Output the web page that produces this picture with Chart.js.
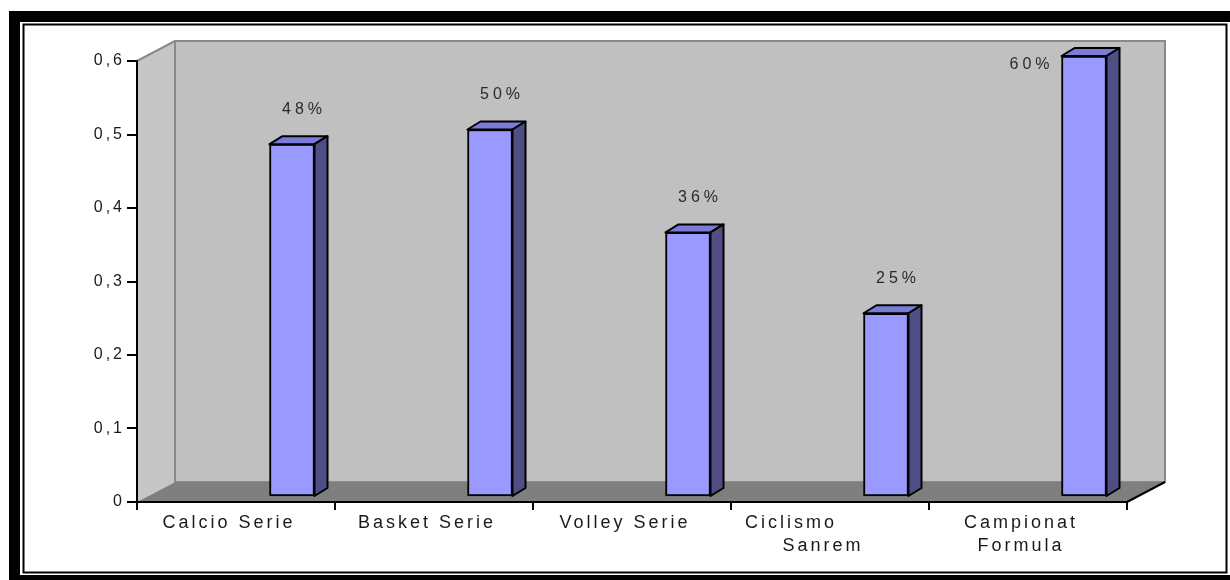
<!DOCTYPE html>
<html>
<head>
<meta charset="utf-8">
<script src="https://cdn.jsdelivr.net/npm/chart.js@4.4.1/dist/chart.umd.min.js"></script>
<style>
  html, body { margin: 0; padding: 0; background: #fff; }
  canvas { display: block; }
</style>
</head>
<body>
<canvas id="sportChart" width="1230" height="580"></canvas>
<script>
// category labels as they appear under the axis (one array per category, one string per line)
const categories = [
  ['Calcio Serie'],
  ['Basket Serie'],
  ['Volley Serie'],
  ['Ciclismo' + '\u00a0'.repeat(8), 'Sanrem'],
  ['Campionat', 'Formula']
];
const shares = [0.48, 0.50, 0.36, 0.25, 0.60];
const yTicks = [0, 0.1, 0.2, 0.3, 0.4, 0.5, 0.6];

const FONT = "'Liberation Sans', Arial, sans-serif";
const DEPTH_X = 38, DEPTH_Y = 20;     // floor / side wall depth
const BAR_DX = 13, BAR_DY = 8;        // bar side/top depth
const BAR_SHIFT_X = 56, BAR_SHIFT_Y = -5;

function spacing(chart) {
  chart.ctx.letterSpacing = '3px';
}

// white page, double black frame, then the grey box behind the bars
const backdrop = {
  id: 'backdrop',
  beforeUpdate: spacing,
  beforeLayout: spacing,
  beforeDraw(chart) {
    const { ctx, width, height, chartArea: a } = chart;
    ctx.save();
    ctx.fillStyle = '#fff';
    ctx.fillRect(0, 0, width, height);
    ctx.fillStyle = '#000';
    ctx.fillRect(9, 11, width, height);
    ctx.fillStyle = '#fff';
    ctx.fillRect(20, 22, 1210, 553);
    ctx.strokeStyle = '#000';
    ctx.lineWidth = 2;
    ctx.strokeRect(23.5, 24.5, 1203, 548);

    const L = a.left, R = a.right, T = a.top, B = a.bottom;
    // side wall
    ctx.fillStyle = '#c6c6c6';
    ctx.beginPath();
    ctx.moveTo(L, T); ctx.lineTo(L + DEPTH_X, T - DEPTH_Y);
    ctx.lineTo(L + DEPTH_X, B - DEPTH_Y); ctx.lineTo(L, B);
    ctx.closePath(); ctx.fill();
    // back wall
    ctx.fillStyle = '#c0c0c0';
    ctx.fillRect(L + DEPTH_X, T - DEPTH_Y, R - L, B - T);
    ctx.strokeStyle = '#8a8a8a';
    ctx.lineWidth = 2;
    ctx.strokeRect(L + DEPTH_X, T - DEPTH_Y, R - L, B - T);
    ctx.beginPath();
    ctx.moveTo(L, T); ctx.lineTo(L + DEPTH_X, T - DEPTH_Y);
    ctx.stroke();
    // floor
    ctx.fillStyle = '#7f7f7f';
    ctx.beginPath();
    ctx.moveTo(L, B); ctx.lineTo(L + DEPTH_X, B - DEPTH_Y);
    ctx.lineTo(R + DEPTH_X, B - DEPTH_Y); ctx.lineTo(R, B);
    ctx.closePath(); ctx.fill();
    ctx.strokeStyle = '#000';
    ctx.beginPath();
    ctx.moveTo(R, B); ctx.lineTo(R + DEPTH_X, B - DEPTH_Y);
    ctx.stroke();
    ctx.restore();
    spacing(chart);
  }
};

// shift the bars into the box, then add their top and side faces and the % labels
const bars3d = {
  id: 'bars3d',
  beforeDatasetsDraw(chart) {
    chart.ctx.save();
    chart.ctx.translate(BAR_SHIFT_X, BAR_SHIFT_Y);
  },
  afterDatasetsDraw(chart) {
    const ctx = chart.ctx;
    const meta = chart.getDatasetMeta(0);
    meta.data.forEach(bar => {
      const { x, y, base, width } = bar.getProps(['x', 'y', 'base', 'width'], true);
      const l = x - width / 2, r = x + width / 2;
      ctx.lineWidth = 2;
      ctx.strokeStyle = '#000';
      ctx.lineJoin = 'round';
      ctx.fillStyle = '#7b7bd8';
      ctx.beginPath();
      ctx.moveTo(l, y); ctx.lineTo(l + BAR_DX, y - BAR_DY);
      ctx.lineTo(r + BAR_DX, y - BAR_DY); ctx.lineTo(r, y);
      ctx.closePath(); ctx.fill(); ctx.stroke();
      ctx.fillStyle = '#4f4f85';
      ctx.beginPath();
      ctx.moveTo(r, y); ctx.lineTo(r + BAR_DX, y - BAR_DY);
      ctx.lineTo(r + BAR_DX, base - BAR_DY); ctx.lineTo(r, base);
      ctx.closePath(); ctx.fill(); ctx.stroke();
    });
    ctx.restore();

    ctx.save();
    ctx.font = '16px ' + FONT;
    ctx.letterSpacing = '4px';
    ctx.fillStyle = '#2b2b2b';
    ctx.textBaseline = 'middle';
    meta.data.forEach((bar, i) => {
      const { x, y, width } = bar.getProps(['x', 'y', 'width'], true);
      const top = y + BAR_SHIFT_Y;
      const text = Math.round(shares[i] * 100) + '%';
      let ly = top - BAR_DY - 27;
      if (ly < chart.chartArea.top) {
        ctx.textAlign = 'right';
        ctx.fillText(text, x + BAR_SHIFT_X - width / 2 - 8, top + 9);
      } else {
        ctx.textAlign = 'center';
        ctx.fillText(text, x + BAR_SHIFT_X + 12, ly);
      }
    });
    ctx.restore();
    spacing(chart);
  }
};

new Chart(document.getElementById('sportChart'), {
  type: 'bar',
  data: {
    labels: categories,
    datasets: [{
      data: shares,
      backgroundColor: '#9999ff',
      borderColor: '#000',
      borderWidth: 2,
      borderSkipped: false,
      barThickness: 45
    }]
  },
  options: {
    responsive: false,
    animation: false,
    layout: { padding: { left: 0, top: 61, right: 103, bottom: 0 } },
    plugins: {
      legend: { display: false },
      tooltip: { enabled: false }
    },
    scales: {
      x: {
        afterFit(scale) { scale.height = 78; },
        grid: { drawOnChartArea: false, color: '#000', lineWidth: 2, tickLength: 8, offset: true },
        border: { color: '#000', width: 2 },
        ticks: {
          color: '#1a1a1a',
          padding: 1,
          labelOffset: -7,
          maxRotation: 0,
          autoSkip: false,
          font: { family: FONT, size: 18, lineHeight: 1.3 }
        }
      },
      y: {
        min: 0,
        max: 0.6,
        afterFit(scale) { scale.width = 137; },
        afterBuildTicks(scale) { scale.ticks = yTicks.map(v => ({ value: v })); },
        grid: { drawOnChartArea: false, color: '#000', lineWidth: 2, tickLength: 10 },
        border: { color: '#000', width: 2 },
        ticks: {
          color: '#1a1a1a',
          padding: 2,
          font: { family: FONT, size: 16 },
          callback: v => v === 0 ? '0' : v.toFixed(1).replace('.', ',')
        }
      }
    }
  },
  plugins: [backdrop, bars3d]
});
</script>
</body>
</html>
